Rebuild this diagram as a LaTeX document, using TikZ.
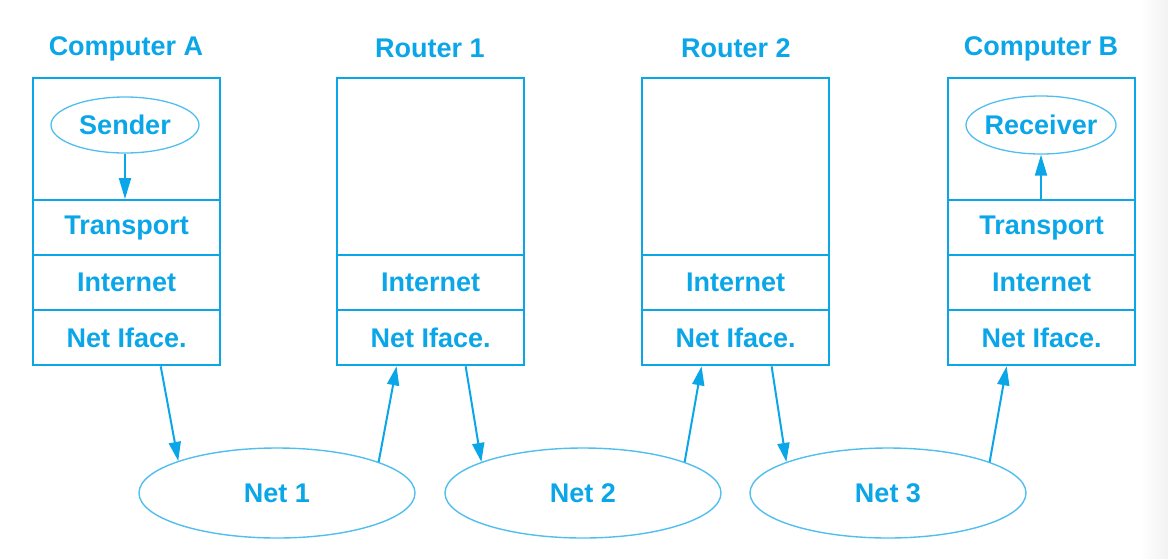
\documentclass[tikz,border=0pt]{standalone}
\usepackage{fontspec}
\setmainfont{Liberation Sans}
\usetikzlibrary{arrows.meta,shapes.geometric,calc}
\definecolor{cy}{RGB}{10,166,232}
\definecolor{cyl}{RGB}{80,190,238}
\tikzset{
  txt/.style={text=cy,font=\fontsize{27}{32}\selectfont\bfseries},
  layer/.style={txt,draw=cy,line width=2.3pt,rectangle,minimum width=187pt,minimum height=55pt,inner sep=0pt,anchor=north west},
  topbox/.style={layer,minimum height=#1},
  app/.style={txt,draw=cyl,line width=1.3pt,ellipse,inner sep=0pt,inner xsep=-4pt},
  net/.style={txt,draw=cyl,line width=1.4pt,ellipse,minimum width=276pt,minimum height=90pt,inner sep=0pt},
  title/.style={txt},
  arr/.style={draw=cy,line width=2pt,-{Triangle[length=19pt,width=12pt]}},
  arrs/.style={draw=cy,line width=2pt,-{Triangle[length=21pt,width=12pt]}}
}
\begin{document}
\begin{tikzpicture}[x=1pt,y=-1pt]
\useasboundingbox (0,0) rectangle (1168,558);
\shade[left color=white,right color=black!5] (1140,0) rectangle (1168,558);
% Computer A
\node[title] (tA) at (126,49) {Computer A};
\node[topbox=122pt] (Atop) at (32,77) {};
\node[layer] (Atr) at (32,199) {Transport};
\node[layer] (Ain) at (32,254) {Internet};
\node[layer] (Aif) at (32,309) {Net Iface.};
\node[app,minimum width=148pt,minimum height=56pt] (snd) at (125,125) {Sender};
% Router 1
\node[title] (tR1) at (430,48) {Router 1};
\node[topbox=177pt] (R1top) at (336,77) {};
\node[layer] (R1in) at (336,254) {Internet};
\node[layer] (R1if) at (336,309) {Net Iface.};
% Router 2
\node[title] (tR2) at (736,48) {Router 2};
\node[topbox=177pt] (R2top) at (641,77) {};
\node[layer] (R2in) at (641,254) {Internet};
\node[layer] (R2if) at (641,309) {Net Iface.};
% Computer B
\node[title] (tB) at (1041,49) {Computer B};
\node[topbox=122pt] (Btop) at (947,77) {};
\node[layer] (Btr) at (947,199) {Transport};
\node[layer] (Bin) at (947,254) {Internet};
\node[layer] (Bif) at (947,309) {Net Iface.};
\node[app,minimum width=150pt,minimum height=58pt] (rcv) at (1041,125) {Receiver};
% Nets
\node[net] (N1) at (277,493) {Net 1};
\node[net] (N2) at (583,493) {Net 2};
\node[net] (N3) at (888,493) {Net 3};
% arrows
\draw[arrs] (snd.south) -- (Atr.north -| snd.south);
\draw[arrs] (Btr.north -| rcv.south) -- (rcv.south);
\draw[arr] ($(Aif.south west)!0.68!(Aif.south east)$) -- (N1.162);
\draw[arr] (N1.17) -- ($(R1if.south west)!0.32!(R1if.south east)$);
\draw[arr] ($(R1if.south west)!0.685!(R1if.south east)$) -- (N2.163.7);
\draw[arr] (N2.17) -- ($(R2if.south west)!0.32!(R2if.south east)$);
\draw[arr] ($(R2if.south west)!0.69!(R2if.south east)$) -- (N3.163.7);
\draw[arr] (N3.17) -- ($(Bif.south west)!0.315!(Bif.south east)$);
\end{tikzpicture}
\end{document}
